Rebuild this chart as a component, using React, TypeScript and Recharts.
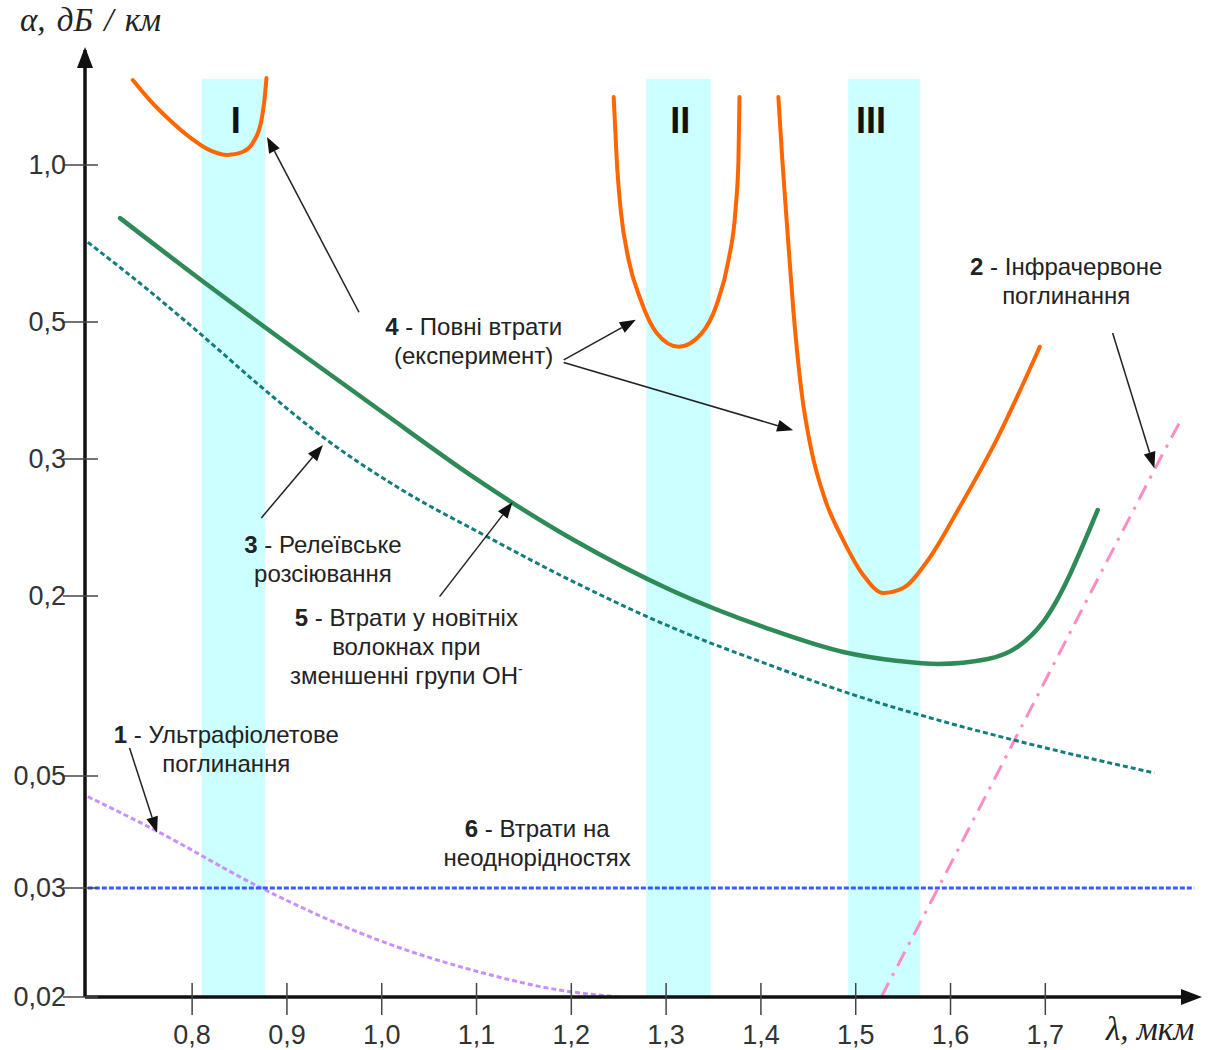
import React from 'react'
import {LineChart, Line, XAxis, YAxis, ReferenceArea, ReferenceLine, ReferenceDot} from 'recharts'

// [λ, мкм ; α, дБ/км]
type Pt = [number, number]

const lambdaTicks = [0.8, 0.9, 1.0, 1.1, 1.2, 1.3, 1.4, 1.5, 1.6, 1.7]
const alphaTicks = [0.02, 0.03, 0.05, 0.2, 0.3, 0.5, 1.0]
const alphaTickLabels = ['0,02', '0,03', '0,05', '0,2', '0,3', '0,5', '1,0']

// 1 - ультрафіолетове поглинання
const uvAbsorption: Pt[] = [
  [0.69, 0.0455], [0.7605, 0.0391], [0.873, 0.03], [0.997, 0.0247], [1.103, 0.02195], [1.187, 0.02053], [1.25, 0.02]
]
// 2 - інфрачервоне поглинання
const irAbsorption: Pt[] = [
  [1.527, 0.02], [1.587, 0.03], [1.648, 0.05], [1.746, 0.2], [1.821, 0.3], [1.843, 0.347]
]
// 3 - релеївське розсіювання
const rayleigh: Pt[] = [
  [0.69, 0.711], [0.755, 0.5733], [0.81, 0.4764], [0.873, 0.3924], [0.9395, 0.3243], [1.018, 0.2753], [1.11, 0.2388],
  [1.203, 0.2084], [1.305, 0.1575], [1.406, 0.1185], [1.492, 0.0947], [1.587, 0.0769], [1.692, 0.063], [1.815, 0.0512]
]
// 4 - повні втрати (експеримент), три вікна
const totalLossI: Pt[] = [
  [0.7374, 1.455], [0.7553, 1.332], [0.7763, 1.22], [0.7974, 1.131], [0.8184, 1.068], [0.8374, 1.045],
  [0.8532, 1.059], [0.8658, 1.117], [0.8732, 1.22], [0.8763, 1.332], [0.8784, 1.468]
]
const totalLossII: Pt[] = [
  [1.2447, 1.35], [1.2479, 1.022], [1.2521, 0.82], [1.2605, 0.657], [1.2732, 0.551], [1.29, 0.48], [1.3132, 0.456],
  [1.3363, 0.477], [1.3532, 0.539], [1.3658, 0.657], [1.3732, 0.82], [1.3763, 1.022], [1.3774, 1.35]
]
const totalLossIII: Pt[] = [
  [1.4184, 1.35], [1.4226, 1.022], [1.4279, 0.75], [1.4342, 0.527], [1.4426, 0.388], [1.4532, 0.31], [1.4679, 0.2657],
  [1.4868, 0.236], [1.5079, 0.2128], [1.5289, 0.2018], [1.55, 0.2048], [1.5763, 0.2225], [1.6079, 0.258], [1.65, 0.3256],
  [1.6942, 0.456]
]
// 5 - втрати у новітніх волокнах
const modernFiber: Pt[] = [
  [0.724, 0.791], [0.808, 0.6045], [0.8995, 0.4624], [1.0005, 0.3574], [1.1016, 0.2818], [1.1384, 0.2633],
  [1.2026, 0.236], [1.3047, 0.2036], [1.4058, 0.1563], [1.4868, 0.13], [1.5447, 0.1213], [1.5868, 0.1185],
  [1.6395, 0.1231], [1.6711, 0.1354], [1.6974, 0.1633], [1.7553, 0.258]
]
// 6 - втрати на неоднорідностях
const inhomogeneity: Pt[] = [[0.69, 0.03], [1.857, 0.03]]

const windows = [
  {name: 'I', from: 0.81, to: 0.877, mark: 0.846},
  {name: 'II', from: 1.279, to: 1.347, mark: 1.315},
  {name: 'III', from: 1.492, to: 1.568, mark: 1.516}
]
const WINDOW_TOP = 1.462
const WINDOW_MARK = 1.152

const notes = [
  {num: '4', lines: ['Повні втрати', '(експеримент)'], lam: 1.097, alpha: 0.476},
  {num: '2', lines: ['Інфрачервоне', 'поглинання'], lam: 1.722, alpha: 0.615},
  {num: '3', lines: ['Релеївське', 'розсіювання'], lam: 0.938, alpha: 0.227},
  {num: '5', lines: ['Втрати у новітніх', 'волокнах при', 'зменшенні групи OH'], sup: '-', lam: 1.026, alpha: 0.159},
  {num: '1', lines: ['Ультрафіолетове', 'поглинання'], lam: 0.836, alpha: 0.0644},
  {num: '6', lines: ['Втрати на', 'неоднорідностях'], lam: 1.164, alpha: 0.0379}
]

// [λ1, α1, λ2, α2] — arrow from label to curve
const pointers = [
  [0.976, 0.522, 0.879, 1.132],
  [1.192, 0.434, 1.268, 0.505],
  [1.192, 0.43, 1.434, 0.334],
  [1.771, 0.48, 1.815, 0.292],
  [0.873, 0.252, 0.938, 0.316],
  [1.061, 0.199, 1.138, 0.264],
  [0.734, 0.062, 0.763, 0.0386]
]

// the hand-drawn axis is not a true log scale: each tick sits on its own level
const tickLevels = [0, 109, 221, 401, 538, 675, 832]
const LEVEL_MAX = 947
const LAMBDA_DOMAIN: [number, number] = [0.687, 1.86]

const logTicks = alphaTicks.map(Math.log10)
function toAxis(a: number) {
  const l = Math.log10(a)
  let i = 0
  while (i < logTicks.length - 2 && l > logTicks[i + 1]) i++
  const t = (l - logTicks[i]) / (logTicks[i + 1] - logTicks[i])
  return tickLevels[i] + t * (tickLevels[i + 1] - tickLevels[i])
}
const toPoints = (s: Pt[]) => s.map(([lam, a]) => ({lam, pos: toAxis(a)}))

const ink = '#222'

function YTick(props: any) {
  const {x, y, payload} = props
  const idx = tickLevels.indexOf(payload.value)
  return (
    <g>
      <line x1={x - 22} x2={x + 13} y1={y} y2={y} stroke="#444" strokeWidth={1.5} />
      <text x={x - 19} y={y + 9} textAnchor="end" fontSize={27} fill="#333">{alphaTickLabels[idx]}</text>
    </g>
  )
}

function XTick(props: any) {
  const {x, y, payload} = props
  return (
    <g>
      <line x1={x} x2={x} y1={y - 14} y2={y + 18} stroke="#444" strokeWidth={1.5} />
      <text x={x} y={y + 47} textAnchor="middle" fontSize={27} fill="#333">
        {payload.value.toFixed(1).replace('.', ',')}
      </text>
    </g>
  )
}

function Arrow(props: any) {
  const {x1, y1, x2, y2} = props
  const ang = Math.atan2(y2 - y1, x2 - x1)
  const len = 16
  const half = 6
  const bx = x2 - len * Math.cos(ang)
  const by = y2 - len * Math.sin(ang)
  const s = Math.sin(ang)
  const c = Math.cos(ang)
  return (
    <g>
      <line x1={x1} y1={y1} x2={bx} y2={by} stroke={ink} strokeWidth={1.5} />
      <polygon points={`${x2},${y2} ${bx - half * s},${by + half * c} ${bx + half * s},${by - half * c}`} fill="#111" />
    </g>
  )
}

function Note({cx, cy, note}: any) {
  const last = note.lines.length - 1
  return (
    <text x={cx} y={cy} textAnchor="middle" fontSize={24} fill={ink}>
      {note.lines.map((line: string, i: number) => (
        <tspan key={i} x={cx} dy={i === 0 ? 0 : 29}>
          {i === 0 && <tspan fontWeight="bold">{note.num}</tspan>}
          {i === 0 ? ' - ' + line : line}
          {i === last && note.sup && <tspan dy={-10} fontSize={14}>{note.sup}</tspan>}
        </tspan>
      ))}
    </text>
  )
}

const lossLine = (key: string, data: Pt[], stroke: string, width: number, dash?: string, type: any = 'monotone') => (
  <Line
    key={key}
    data={toPoints(data)}
    dataKey="pos"
    type={type}
    stroke={stroke}
    strokeWidth={width}
    strokeDasharray={dash}
    strokeLinecap={dash ? 'butt' : 'round'}
    dot={false}
    activeDot={false}
    isAnimationActive={false}
  />
)

export default function App() {
  return (
    <div style={{position: 'absolute', left: 0, top: 0, width: 1212, height: 1050, background: '#fff', fontFamily: '"Liberation Sans", Arial, sans-serif'}}>
      <LineChart width={1212} height={1050} margin={{top: 50, right: 15, bottom: 8, left: 5}}>
        <XAxis
          type="number"
          dataKey="lam"
          domain={LAMBDA_DOMAIN}
          ticks={lambdaTicks}
          interval={0}
          allowDataOverflow
          height={45}
          tickSize={0}
          tickMargin={0}
          tickLine={false}
          axisLine={{stroke: '#111', strokeWidth: 3.5}}
          tick={(p: any) => <XTick {...p} />}
        />
        <YAxis
          type="number"
          domain={[0, LEVEL_MAX]}
          ticks={tickLevels}
          interval={0}
          allowDataOverflow
          width={80}
          tickSize={0}
          tickMargin={0}
          tickLine={false}
          axisLine={{stroke: '#111', strokeWidth: 3.5}}
          tick={(p: any) => <YTick {...p} />}
        />
        {windows.map((w) => (
          <ReferenceArea
            key={w.name}
            x1={w.from}
            x2={w.to}
            y1={0}
            y2={toAxis(WINDOW_TOP)}
            fill="#ccffff"
            fillOpacity={1}
            stroke="none"
          />
        ))}
        {lossLine('uv', uvAbsorption, '#c890ff', 3, '5 3')}
        {lossLine('flat', inhomogeneity, '#3a5cff', 3, '5 2', 'linear')}
        {lossLine('ir', irAbsorption, '#ff8cc4', 3, '16 8 3 8', 'linear')}
        {lossLine('rayleigh', rayleigh, '#127d7d', 3, '5 3')}
        {lossLine('modern', modernFiber, '#2e8b57', 4.5)}
        {lossLine('totI', totalLossI, '#ff6600', 4)}
        {lossLine('totII', totalLossII, '#ff6600', 4)}
        {lossLine('totIII', totalLossIII, '#ff6600', 4)}
        {windows.map((w) => (
          <ReferenceDot
            key={'m' + w.name}
            x={w.mark}
            y={toAxis(WINDOW_MARK)}
            r={0}
            ifOverflow="visible"
            shape={(sp: any) => (
              <text x={sp.cx} y={sp.cy} textAnchor="middle" fontSize={36} fontWeight="bold" fill="#111">{w.name}</text>
            )}
          />
        ))}
        {pointers.map((p, i) => (
          <ReferenceLine
            key={i}
            segment={[{x: p[0], y: toAxis(p[1])}, {x: p[2], y: toAxis(p[3])}]}
            ifOverflow="visible"
            shape={(sp: any) => <Arrow {...sp} />}
          />
        ))}
        {notes.map((n) => (
          <ReferenceDot
            key={n.num}
            x={n.lam}
            y={toAxis(n.alpha)}
            r={0}
            ifOverflow="visible"
            shape={(sp: any) => <Note cx={sp.cx} cy={sp.cy} note={n} />}
          />
        ))}
        <ReferenceDot
          x={LAMBDA_DOMAIN[0]}
          y={LEVEL_MAX}
          r={0}
          ifOverflow="visible"
          shape={(sp: any) => <polygon points={`${sp.cx},${sp.cy - 3} ${sp.cx - 8},${sp.cy + 18} ${sp.cx + 8},${sp.cy + 18}`} fill="#111" />}
        />
        <ReferenceDot
          x={LAMBDA_DOMAIN[1]}
          y={0}
          r={0}
          ifOverflow="visible"
          shape={(sp: any) => <polygon points={`${sp.cx + 5},${sp.cy} ${sp.cx - 16},${sp.cy - 8} ${sp.cx - 16},${sp.cy + 8}`} fill="#111" />}
        />
      </LineChart>
      <div style={{position: 'absolute', left: 20, top: 2, fontFamily: '"Liberation Serif", serif', fontStyle: 'italic', fontSize: 33, wordSpacing: 3, color: ink, whiteSpace: 'nowrap'}}>
        α, дБ / км
      </div>
      <div style={{position: 'absolute', left: 1106, top: 1011, fontFamily: '"Liberation Serif", serif', fontStyle: 'italic', fontSize: 33, color: ink, whiteSpace: 'nowrap'}}>
        λ, мкм
      </div>
    </div>
  )
}
